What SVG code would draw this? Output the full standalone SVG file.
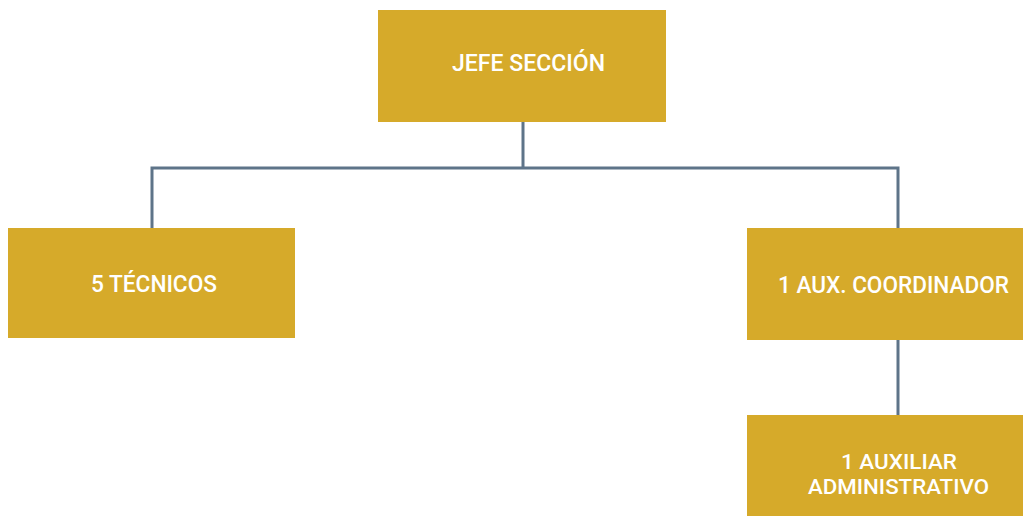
<svg xmlns="http://www.w3.org/2000/svg" width="1023" height="516" viewBox="0 0 1023 516">
<style>
.box{fill:#D6AA2A}
.lbl{fill:#FFFFFF;font-family:Roboto,"Liberation Sans",sans-serif;font-size:23px;font-weight:500}
.sm{font-size:21px}
.con{stroke:#5E7489;stroke-width:3;fill:none}
</style>
<rect width="1023" height="516" fill="#FFFFFF"/>
<g id="connectors">
<path class="con" d="M523 122 V168 M152 228 V168 H898 V228 M898 340 V415"/>
</g>
<g id="jefe">
<rect class="box" x="378" y="10" width="288" height="112"/>
<text class="lbl" x="452" y="71" textLength="153" lengthAdjust="spacingAndGlyphs">JEFE SECCIÓN</text>
</g>
<g id="tecnicos">
<rect class="box" x="8" y="228" width="287" height="110"/>
<text class="lbl" x="91" y="292" textLength="126" lengthAdjust="spacingAndGlyphs">5 TÉCNICOS</text>
</g>
<g id="coordinador">
<rect class="box" x="747" y="228" width="276" height="112"/>
<text class="lbl" x="778" y="293" textLength="231" lengthAdjust="spacingAndGlyphs">1 AUX. COORDINADOR</text>
</g>
<g id="auxiliar">
<rect class="box" x="747" y="415" width="276" height="101"/>
<text class="lbl sm" x="841" y="469" textLength="116" lengthAdjust="spacingAndGlyphs">1 AUXILIAR</text>
<text class="lbl sm" x="808" y="494" textLength="181" lengthAdjust="spacingAndGlyphs">ADMINISTRATIVO</text>
</g>
</svg>
